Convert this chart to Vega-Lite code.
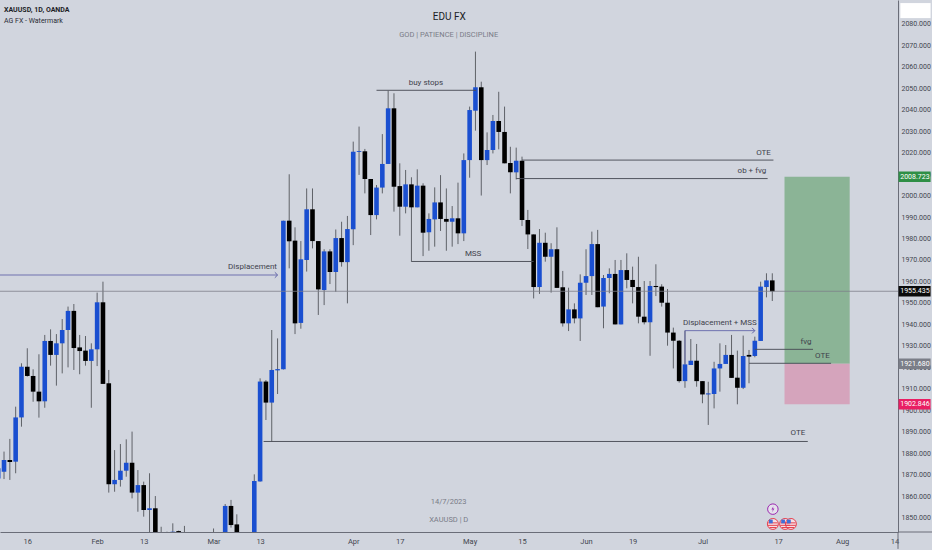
{
  "$schema": "https://vega.github.io/schema/vega-lite/v6.json",
  "width": 898,
  "height": 532,
  "autosize": {"type": "none"},
  "padding": {"left": 0, "top": 0, "right": 34, "bottom": 18},
  "background": "#d1d5de",
  "config": {"view": {"stroke": null}, "font": "Roboto"},
  "datasets": {
    "candles": [
      {"b":-1,"o":1868.3,"h":1876.9,"l":1866.0,"c":1873.0},
      {"b":0,"o":1871.4,"h":1880.8,"l":1868.0,"c":1876.9},
      {"b":1,"o":1876.9,"h":1886.7,"l":1867.6,"c":1875.9},
      {"b":2,"o":1876.1,"h":1901.7,"l":1870.7,"c":1896.7},
      {"b":3,"o":1896.7,"h":1921.9,"l":1892.4,"c":1920.3},
      {"b":4,"o":1920.3,"h":1928.9,"l":1915.7,"c":1916.0},
      {"b":5,"o":1916.0,"h":1919.1,"l":1904.0,"c":1908.7},
      {"b":6,"o":1908.7,"h":1926.1,"l":1896.6,"c":1904.2},
      {"b":7,"o":1904.2,"h":1935.1,"l":1901.2,"c":1932.3},
      {"b":8,"o":1932.3,"h":1937.7,"l":1920.8,"c":1925.8},
      {"b":9,"o":1925.8,"h":1935.5,"l":1911.5,"c":1931.2},
      {"b":10,"o":1931.2,"h":1942.5,"l":1917.2,"c":1937.4},
      {"b":11,"o":1937.4,"h":1948.3,"l":1920.0,"c":1946.3},
      {"b":12,"o":1946.3,"h":1949.5,"l":1918.8,"c":1929.0},
      {"b":13,"o":1929.3,"h":1935.1,"l":1916.8,"c":1927.6},
      {"b":14,"o":1927.8,"h":1934.6,"l":1920.8,"c":1923.0},
      {"b":15,"o":1923.0,"h":1931.2,"l":1901.2,"c":1928.4},
      {"b":16,"o":1928.4,"h":1954.8,"l":1920.6,"c":1950.3},
      {"b":17,"o":1950.3,"h":1959.9,"l":1912.3,"c":1912.3},
      {"b":18,"o":1912.6,"h":1918.8,"l":1861.7,"c":1865.6},
      {"b":19,"o":1865.6,"h":1881.5,"l":1862.1,"c":1867.6},
      {"b":20,"o":1867.6,"h":1884.3,"l":1864.5,"c":1871.9},
      {"b":21,"o":1871.9,"h":1886.5,"l":1869.1,"c":1875.6},
      {"b":22,"o":1875.6,"h":1890.1,"l":1859.0,"c":1861.7},
      {"b":23,"o":1861.7,"h":1872.2,"l":1852.8,"c":1865.2},
      {"b":24,"o":1865.2,"h":1866.8,"l":1850.5,"c":1853.6},
      {"b":25,"o":1853.6,"h":1870.7,"l":1841.2,"c":1854.4},
      {"b":26,"o":1854.4,"h":1860.1,"l":1833.4,"c":1838.1},
      {"b":27,"o":1838.0,"h":1845.8,"l":1830.0,"c":1835.0},
      {"b":28,"o":1838.0,"h":1843.5,"l":1830.0,"c":1835.0},
      {"b":29,"o":1840.0,"h":1847.4,"l":1832.0,"c":1843.5},
      {"b":30,"o":1843.8,"h":1844.0,"l":1830.0,"c":1838.0},
      {"b":31,"o":1838.0,"h":1846.2,"l":1828.0,"c":1833.0},
      {"b":32,"o":1833.0,"h":1840.0,"l":1820.0,"c":1826.0},
      {"b":33,"o":1826.0,"h":1838.0,"l":1818.0,"c":1832.0},
      {"b":34,"o":1832.0,"h":1840.0,"l":1812.0,"c":1818.0},
      {"b":35,"o":1818.0,"h":1834.0,"l":1805.0,"c":1815.0},
      {"b":36,"o":1812.0,"h":1845.0,"l":1806.0,"c":1838.0},
      {"b":37,"o":1825.0,"h":1842.0,"l":1820.0,"c":1840.0},
      {"b":38,"o":1840.0,"h":1856.4,"l":1835.0,"c":1855.5},
      {"b":39,"o":1855.5,"h":1858.3,"l":1845.4,"c":1846.6},
      {"b":40,"o":1846.9,"h":1851.6,"l":1832.0,"c":1838.0},
      {"b":41,"o":1838.0,"h":1842.0,"l":1824.0,"c":1830.0},
      {"b":42,"o":1828.0,"h":1841.0,"l":1822.0,"c":1838.0},
      {"b":43,"o":1836.0,"h":1870.2,"l":1830.0,"c":1867.1},
      {"b":44,"o":1866.9,"h":1914.9,"l":1866.8,"c":1913.4},
      {"b":45,"o":1913.4,"h":1914.1,"l":1895.5,"c":1903.6},
      {"b":46,"o":1903.6,"h":1937.4,"l":1885.4,"c":1918.8},
      {"b":47,"o":1918.6,"h":1933.5,"l":1907.6,"c":1919.2},
      {"b":48,"o":1919.1,"h":1988.3,"l":1919.0,"c":1988.3},
      {"b":49,"o":1988.3,"h":2009.9,"l":1966.1,"c":1978.7},
      {"b":50,"o":1979.0,"h":1985.2,"l":1935.5,"c":1940.5},
      {"b":51,"o":1940.7,"h":1978.8,"l":1938.0,"c":1970.3},
      {"b":52,"o":1970.0,"h":2003.3,"l":1964.6,"c":1993.6},
      {"b":53,"o":1993.6,"h":2003.3,"l":1975.4,"c":1978.8},
      {"b":54,"o":1978.8,"h":1978.8,"l":1944.4,"c":1956.3},
      {"b":55,"o":1956.0,"h":1975.0,"l":1949.0,"c":1974.0},
      {"b":56,"o":1974.0,"h":1975.0,"l":1958.8,"c":1964.4},
      {"b":57,"o":1964.4,"h":1984.2,"l":1955.2,"c":1980.2},
      {"b":58,"o":1980.2,"h":1987.8,"l":1966.9,"c":1969.0},
      {"b":59,"o":1969.0,"h":1990.5,"l":1949.8,"c":1984.4},
      {"b":60,"o":1984.3,"h":2025.1,"l":1976.9,"c":2020.4},
      {"b":61,"o":2020.3,"h":2032.1,"l":2009.6,"c":2020.7},
      {"b":62,"o":2020.6,"h":2021.7,"l":2001.0,"c":2007.7},
      {"b":63,"o":2007.7,"h":2007.7,"l":1981.6,"c":1990.9},
      {"b":64,"o":1990.9,"h":2004.9,"l":1988.9,"c":2003.7},
      {"b":65,"o":2003.7,"h":2028.6,"l":2001.0,"c":2014.7},
      {"b":66,"o":2014.7,"h":2048.8,"l":2014.7,"c":2040.6},
      {"b":67,"o":2040.6,"h":2047.6,"l":1992.5,"c":2004.1},
      {"b":68,"o":2004.4,"h":2015.0,"l":1981.3,"c":1994.8},
      {"b":69,"o":1994.8,"h":2011.9,"l":1991.7,"c":2005.2},
      {"b":70,"o":2005.2,"h":2008.5,"l":1969.2,"c":1994.5},
      {"b":71,"o":1994.5,"h":2012.2,"l":1994.5,"c":2004.6},
      {"b":72,"o":2004.6,"h":2005.7,"l":1971.8,"c":1982.7},
      {"b":73,"o":1982.9,"h":1991.7,"l":1974.3,"c":1989.1},
      {"b":74,"o":1988.9,"h":2003.8,"l":1976.2,"c":1996.8},
      {"b":75,"o":1996.8,"h":2009.5,"l":1983.5,"c":1989.1},
      {"b":76,"o":1989.1,"h":2003.3,"l":1974.3,"c":1987.8},
      {"b":77,"o":1987.8,"h":1995.1,"l":1976.2,"c":1989.4},
      {"b":78,"o":1989.4,"h":2006.0,"l":1977.4,"c":1982.4},
      {"b":79,"o":1982.4,"h":2019.6,"l":1978.8,"c":2016.5},
      {"b":80,"o":2016.5,"h":2041.4,"l":2008.3,"c":2039.8},
      {"b":81,"o":2039.5,"h":2067.0,"l":2030.2,"c":2050.4},
      {"b":82,"o":2050.4,"h":2053.0,"l":2000.0,"c":2016.5},
      {"b":83,"o":2016.5,"h":2029.4,"l":2014.2,"c":2021.2},
      {"b":84,"o":2021.2,"h":2037.5,"l":2019.6,"c":2034.7},
      {"b":85,"o":2034.7,"h":2048.3,"l":2021.5,"c":2029.6},
      {"b":86,"o":2029.6,"h":2041.4,"l":2015.0,"c":2015.0},
      {"b":87,"o":2015.1,"h":2022.7,"l":2001.0,"c":2010.8},
      {"b":88,"o":2010.8,"h":2022.3,"l":2007.5,"c":2016.2},
      {"b":89,"o":2016.2,"h":2018.1,"l":1985.8,"c":1988.6},
      {"b":90,"o":1988.6,"h":1993.3,"l":1975.1,"c":1981.9},
      {"b":91,"o":1981.9,"h":1981.9,"l":1952.1,"c":1957.4},
      {"b":92,"o":1957.4,"h":1984.4,"l":1954.2,"c":1978.0},
      {"b":93,"o":1978.0,"h":1982.7,"l":1969.2,"c":1971.5},
      {"b":94,"o":1971.5,"h":1977.8,"l":1954.8,"c":1975.0},
      {"b":95,"o":1975.0,"h":1985.2,"l":1957.0,"c":1957.0},
      {"b":96,"o":1957.3,"h":1964.9,"l":1939.0,"c":1940.5},
      {"b":97,"o":1940.5,"h":1957.1,"l":1936.9,"c":1947.0},
      {"b":98,"o":1947.0,"h":1949.8,"l":1940.5,"c":1942.8},
      {"b":99,"o":1942.8,"h":1963.3,"l":1932.3,"c":1959.4},
      {"b":100,"o":1959.4,"h":1975.0,"l":1953.7,"c":1962.5},
      {"b":101,"o":1962.5,"h":1983.2,"l":1953.7,"c":1977.4},
      {"b":102,"o":1977.4,"h":1984.0,"l":1948.0,"c":1948.0},
      {"b":103,"o":1948.3,"h":1963.0,"l":1938.2,"c":1961.6},
      {"b":104,"o":1961.6,"h":1966.1,"l":1954.5,"c":1963.5},
      {"b":105,"o":1963.5,"h":1970.0,"l":1940.0,"c":1940.0},
      {"b":106,"o":1940.0,"h":1970.0,"l":1940.0,"c":1965.3},
      {"b":107,"o":1965.3,"h":1973.1,"l":1956.8,"c":1960.7},
      {"b":108,"o":1960.7,"h":1966.9,"l":1949.8,"c":1957.4},
      {"b":109,"o":1957.4,"h":1971.5,"l":1940.5,"c":1943.6},
      {"b":110,"o":1943.6,"h":1960.2,"l":1940.0,"c":1941.0},
      {"b":111,"o":1941.0,"h":1960.2,"l":1925.4,"c":1957.9},
      {"b":112,"o":1957.9,"h":1968.0,"l":1953.2,"c":1957.4},
      {"b":113,"o":1957.6,"h":1958.7,"l":1948.3,"c":1950.1},
      {"b":114,"o":1950.1,"h":1956.5,"l":1930.1,"c":1936.2},
      {"b":115,"o":1936.2,"h":1938.5,"l":1919.5,"c":1932.4},
      {"b":116,"o":1932.4,"h":1932.7,"l":1912.9,"c":1913.6},
      {"b":117,"o":1913.6,"h":1937.1,"l":1910.5,"c":1921.4},
      {"b":118,"o":1921.1,"h":1933.2,"l":1921.1,"c":1923.1},
      {"b":119,"o":1923.1,"h":1930.9,"l":1911.0,"c":1913.6},
      {"b":120,"o":1913.6,"h":1913.6,"l":1903.3,"c":1907.4},
      {"b":121,"o":1907.4,"h":1913.3,"l":1893.2,"c":1907.9},
      {"b":122,"o":1907.6,"h":1922.6,"l":1900.9,"c":1919.5},
      {"b":123,"o":1919.5,"h":1931.2,"l":1908.7,"c":1921.6},
      {"b":124,"o":1921.6,"h":1930.4,"l":1921.6,"c":1925.8},
      {"b":125,"o":1925.8,"h":1935.1,"l":1915.1,"c":1915.1},
      {"b":126,"o":1915.2,"h":1927.8,"l":1902.8,"c":1910.5},
      {"b":127,"o":1910.5,"h":1934.8,"l":1909.9,"c":1925.3},
      {"b":128,"o":1925.8,"h":1928.1,"l":1912.6,"c":1925.0},
      {"b":129,"o":1925.3,"h":1934.3,"l":1924.7,"c":1932.4},
      {"b":130,"o":1932.3,"h":1959.9,"l":1932.3,"c":1957.6},
      {"b":131,"o":1957.4,"h":1963.8,"l":1952.6,"c":1960.5},
      {"b":132,"o":1960.5,"h":1963.8,"l":1950.9,"c":1955.4}
    ],
    "zones": [
      {"zone":"profit","b0":134.1,"b1":145.3,"p0":2008.723,"p1":1921.68},
      {"zone":"stop","b0":134.1,"b1":145.3,"p0":1921.68,"p1":1902.846}
    ],
    "segments": [
      {"kind":"price","b0":-0.69,"b1":153.6,"p0":1955.435,"p1":1955.435},
      {"kind":"impulse","b0":-0.69,"b1":47,"p0":1963.0,"p1":1963.0},
      {"kind":"impulse","b0":117,"b1":129,"p0":1937.1,"p1":1937.1},
      {"kind":"impulse","b0":117,"b1":117,"p0":1937.1,"p1":1921.4},
      {"kind":"level","b0":44.6,"b1":138.1,"p0":1885.5,"p1":1885.5},
      {"kind":"level","b0":64,"b1":81.1,"p0":2049,"p1":2049},
      {"kind":"level","b0":70,"b1":91,"p0":1969.3,"p1":1969.3},
      {"kind":"level","b0":89,"b1":132.2,"p0":2016.5,"p1":2016.5},
      {"kind":"level","b0":88,"b1":131.2,"p0":2007.9,"p1":2007.9},
      {"kind":"level","b0":129,"b1":139,"p0":1928.4,"p1":1928.4},
      {"kind":"level","b0":128,"b1":142.1,"p0":1921.9,"p1":1921.9},
      {"kind":"frame","b0":153.6,"b1":160,"p0":1843.36,"p1":1843.36},
      {"kind":"frame","b0":153.6,"b1":153.6,"p0":1843.36,"p1":1835.5}
    ],
    "arrows": [
      {"b":47,"p":1963.0},
      {"b":129,"p":1937.1}
    ],
    "notes": [
      {"text":"Displacement","b":42.7,"p":1966.6},
      {"text":"buy stops","b":72.5,"p":2052.2},
      {"text":"MSS","b":80.6,"p":1972.8},
      {"text":"OTE","b":130.5,"p":2020},
      {"text":"ob + fvg","b":128.5,"p":2011.4},
      {"text":"Displacement + MSS","b":123,"p":1940.8},
      {"text":"fvg","b":137.8,"p":1932},
      {"text":"OTE","b":140.6,"p":1925.3},
      {"text":"OTE","b":136.4,"p":1889.5}
    ],
    "tags": [
      {"label":"2008.723","price":2008.723,"kind":"target"},
      {"label":"1955.435","price":1955.435,"kind":"last"},
      {"label":"1921.680","price":1921.68,"kind":"entry"},
      {"label":"1902.846","price":1902.846,"kind":"stop"}
    ],
    "flags": [
      {"b":132.1,"p":1847.1},
      {"b":134.2,"p":1847.1},
      {"b":135.2,"p":1847.1}
    ]
  },
  "resolve": {"scale": {"color": "independent", "strokeWidth": "independent"}},
  "encoding": {
    "x": {
      "type": "quantitative",
      "scale": {"domain": [-0.69, 153.6], "nice": false, "zero": false, "padding": 0},
      "axis": {
        "title": null, "orient": "bottom", "grid": false, "ticks": false,
        "domainColor": "#6a6d78", "domainWidth": 1,
        "values": [4,16,24,36,44,60,68,80,89,100,108,120,133,144,153],
        "labelExpr": "{'4':'16','16':'Feb','24':'13','36':'Mar','44':'13','60':'Apr','68':'17','80':'May','89':'15','100':'Jun','108':'19','120':'Jul','133':'17','144':'Aug','153':'14'}[datum.value]",
        "labelFontSize": 7.5, "labelColor": "#43464f", "labelPadding": 5,
        "labelOverlap": false, "labelFlush": false, "labelBound": false, "labelAngle": 0
      }
    },
    "y": {
      "type": "quantitative",
      "scale": {"domain": [1843.36, 2091.03], "nice": false, "zero": false, "padding": 0},
      "axis": {
        "title": null, "orient": "right", "grid": false, "ticks": false,
        "domainColor": "#6a6d78", "domainWidth": 1,
        "values": [1850,1860,1870,1880,1890,1900,1910,1920,1930,1940,1950,1960,1970,1980,1990,2000,2010,2020,2030,2040,2050,2060,2070,2080],
        "format": ".3f", "labelFontSize": 7, "labelColor": "#43464f", "labelPadding": 3,
        "labelOverlap": false, "labelFlush": false, "labelBound": false
      }
    }
  },
  "layer": [
    {
      "data": {"name": "zones"},
      "mark": {"type": "rect"},
      "encoding": {
        "x": {"field": "b0", "type": "quantitative"},
        "x2": {"field": "b1"},
        "y": {"field": "p0", "type": "quantitative"},
        "y2": {"field": "p1"},
        "color": {
          "field": "zone", "type": "nominal", "legend": null,
          "scale": {"domain": ["profit", "stop"], "range": ["#8bb496", "#d5a4bc"]}
        }
      }
    },
    {
      "data": {"name": "candles"},
      "mark": {"type": "rule", "color": "#5f6268", "strokeWidth": 1, "clip": true},
      "encoding": {
        "x": {"field": "b", "type": "quantitative"},
        "y": {"field": "l", "type": "quantitative"},
        "y2": {"field": "h"}
      }
    },
    {
      "data": {"name": "candles"},
      "mark": {"type": "bar", "orient": "vertical", "size": 4.6, "clip": true},
      "encoding": {
        "x": {"field": "b", "type": "quantitative"},
        "y": {"field": "o", "type": "quantitative"},
        "y2": {"field": "c"},
        "color": {
          "condition": {"test": "datum.c > datum.o", "value": "#1a4fd0"},
          "value": "#000000"
        }
      }
    },
    {
      "data": {"name": "segments"},
      "mark": {"type": "rule"},
      "encoding": {
        "x": {"field": "b0", "type": "quantitative"},
        "x2": {"field": "b1"},
        "y": {"field": "p0", "type": "quantitative"},
        "y2": {"field": "p1"},
        "color": {
          "field": "kind", "type": "nominal", "legend": null,
          "scale": {
            "domain": ["price", "impulse", "level", "frame"],
            "range": ["#7d808a", "#6063a8", "#484b55", "#6a6d78"]
          }
        },
        "strokeWidth": {
          "field": "kind", "type": "nominal", "legend": null,
          "scale": {
            "domain": ["price", "impulse", "level", "frame"],
            "range": [0.8, 1, 1.1, 1]
          }
        }
      }
    },
    {
      "data": {"name": "arrows"},
      "mark": {"type": "point", "shape": "M-1,-1L0,0L-1,1", "filled": false, "size": 30, "color": "#6063a8", "strokeWidth": 1, "opacity": 1},
      "encoding": {
        "x": {"field": "b", "type": "quantitative"},
        "y": {"field": "p", "type": "quantitative"}
      }
    },
    {
      "data": {"name": "notes"},
      "mark": {"type": "text", "fontSize": 8, "color": "#3f424c", "align": "center", "baseline": "middle"},
      "encoding": {
        "x": {"field": "b", "type": "quantitative"},
        "y": {"field": "p", "type": "quantitative"},
        "text": {"field": "text"}
      }
    },
    {
      "data": {"values": [{"text":"XAUUSD, 1D, OANDA","p":2086.4}]},
      "mark": {"type": "text", "fontSize": 7, "fontWeight": "bold", "align": "left", "baseline": "middle", "color": "#1c1e26"},
      "encoding": {
        "x": {"datum": 0},
        "y": {"field": "p", "type": "quantitative"},
        "text": {"field": "text"}
      }
    },
    {
      "data": {"values": [{"text":"AG FX - Watermark","p":2081.3}]},
      "mark": {"type": "text", "fontSize": 7, "align": "left", "baseline": "middle", "color": "#2a2c35"},
      "encoding": {
        "x": {"datum": 0},
        "y": {"field": "p", "type": "quantitative"},
        "text": {"field": "text"}
      }
    },
    {
      "data": {"values": [{"text":"EDU FX","p":2083.1}]},
      "mark": {"type": "text", "fontSize": 10, "align": "center", "baseline": "middle", "color": "#1c1e26"},
      "encoding": {
        "x": {"datum": 76.5},
        "y": {"field": "p", "type": "quantitative"},
        "text": {"field": "text"}
      }
    },
    {
      "data": {"values": [
        {"text":"GOD  |  PATIENCE  |  DISCIPLINE","p":2074.9},
        {"text":"14/7/2023","p":1857.3},
        {"text":"XAUUSD  |  D","p":1848.9}
      ]},
      "mark": {"type": "text", "fontSize": 7.5, "align": "center", "baseline": "middle", "color": "#797c87"},
      "encoding": {
        "x": {"datum": 76.4},
        "y": {"field": "p", "type": "quantitative"},
        "text": {"field": "text"}
      }
    },
    {
      "data": {"name": "tags"},
      "mark": {"type": "bar", "orient": "horizontal", "size": 10.5},
      "encoding": {
        "x": {"datum": 153.7},
        "x2": {"datum": 159.2},
        "y": {"field": "price", "type": "quantitative"},
        "color": {
          "field": "kind", "type": "nominal", "legend": null,
          "scale": {
            "domain": ["target", "last", "entry", "stop"],
            "range": ["#2f8f46", "#0b0b0b", "#7b7e88", "#e91e63"]
          }
        }
      }
    },
    {
      "data": {"name": "tags"},
      "mark": {"type": "text", "fontSize": 7, "align": "center", "baseline": "middle", "color": "#ffffff"},
      "encoding": {
        "x": {"datum": 156.5},
        "y": {"field": "price", "type": "quantitative"},
        "text": {"field": "label"}
      }
    },
    {
      "data": {"values": [{"top":2089.6,"bottom":2082.6}]},
      "mark": {"type": "rect", "color": "#ffffff"},
      "encoding": {
        "x": {"datum": 154},
        "x2": {"datum": 159.2},
        "y": {"field": "top", "type": "quantitative"},
        "y2": {"field": "bottom"}
      }
    },
    {
      "data": {"values": [{"b":132.1,"p":1854}]},
      "mark": {"type": "point", "shape": "circle", "filled": true, "size": 110, "fill": "#e4e1ec", "stroke": "#9c27b0", "strokeWidth": 1, "opacity": 1},
      "encoding": {
        "x": {"field": "b", "type": "quantitative"},
        "y": {"field": "p", "type": "quantitative"}
      }
    },
    {
      "data": {"values": [{"b":132.1,"p":1854}]},
      "mark": {"type": "point", "shape": "M0.2,-1L-0.5,0.15H0L-0.2,1L0.5,-0.2H0Z", "filled": true, "size": 36, "color": "#9c27b0", "opacity": 1},
      "encoding": {
        "x": {"field": "b", "type": "quantitative"},
        "y": {"field": "p", "type": "quantitative"}
      }
    },
    {
      "data": {"name": "flags"},
      "mark": {"type": "point", "shape": "circle", "filled": true, "size": 120, "fill": "#f5dfe3", "stroke": "#e5404f", "strokeWidth": 1, "opacity": 1},
      "encoding": {
        "x": {"field": "b", "type": "quantitative"},
        "y": {"field": "p", "type": "quantitative"}
      }
    },
    {
      "data": {"name": "flags"},
      "mark": {"type": "point", "shape": "M-0.85,-0.2H0.85M-0.9,0.25H0.9M-0.6,0.65H0.6", "filled": false, "size": 120, "color": "#e5404f", "strokeWidth": 1, "opacity": 1},
      "encoding": {
        "x": {"field": "b", "type": "quantitative"},
        "y": {"field": "p", "type": "quantitative"}
      }
    },
    {
      "data": {"name": "flags"},
      "mark": {"type": "point", "shape": "square", "filled": true, "size": 14, "color": "#3f6fd8", "xOffset": -2, "yOffset": -2.5, "opacity": 1},
      "encoding": {
        "x": {"field": "b", "type": "quantitative"},
        "y": {"field": "p", "type": "quantitative"}
      }
    }
  ]
}
